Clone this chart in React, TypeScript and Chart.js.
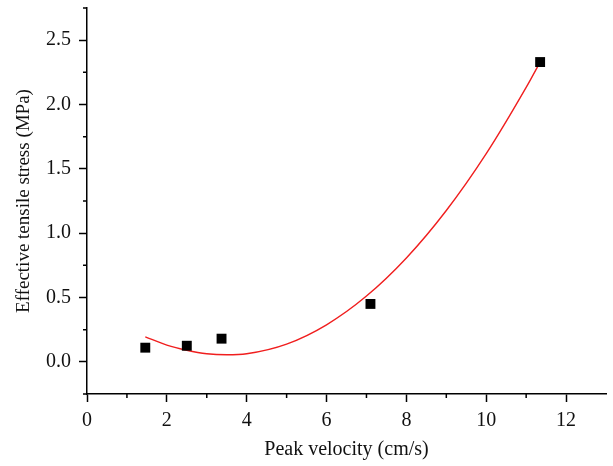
import React, { useEffect, useRef } from "react";
import { Chart, registerables } from "chart.js";

Chart.register(...registerables);

// Measured points
const pointX = [1.46, 2.5, 3.37, 7.1, 11.35];
const pointY = [0.11, 0.125, 0.18, 0.45, 2.33];

// Fitted curve
const curveX = [1.46, 2, 2.5, 3, 3.5, 4, 5, 6, 7, 8, 9, 10, 11, 11.35];
const curveY = [0.194, 0.13, 0.09, 0.063, 0.055, 0.063, 0.138, 0.288, 0.511, 0.807, 1.176, 1.618, 2.133, 2.33];

// Axis ticks
const xMajorTicks = [0, 2, 4, 6, 8, 10, 12];
const xMinorTicks = [1, 3, 5, 7, 9, 11];
const yMajorTicks = [0, 0.5, 1.0, 1.5, 2.0, 2.5];
const yMinorTicks = [-0.25, 0.25, 0.75, 1.25, 1.75, 2.25, 2.75];

const FONT = "'Liberation Serif', 'DejaVu Serif', serif";

const minorTickPlugin = {
  id: "minorTicks",
  afterDraw(chart: any) {
    const { ctx, scales } = chart;
    const xs = scales.x;
    const ys = scales.y;
    ctx.save();
    ctx.strokeStyle = "#000";
    ctx.lineWidth = 1.5;
    ctx.beginPath();
    for (const v of xMinorTicks) {
      const px = xs.getPixelForValue(v);
      ctx.moveTo(px, ys.bottom);
      ctx.lineTo(px, ys.bottom + 4);
    }
    for (const v of yMinorTicks) {
      const py = ys.getPixelForValue(v);
      ctx.moveTo(xs.left, py);
      ctx.lineTo(xs.left - 4, py);
    }
    ctx.stroke();
    ctx.restore();
  },
};

export default function App() {
  const ref = useRef<HTMLCanvasElement | null>(null);

  useEffect(() => {
    if (!ref.current) return;
    const chart = new Chart(ref.current, {
      type: "scatter",
      data: {
        datasets: [
          {
            label: "Data",
            data: pointX.map((x, i) => ({ x, y: pointY[i] })),
            pointStyle: "rect",
            pointRadius: 7,
            pointBackgroundColor: "#000",
            pointBorderWidth: 0,
            showLine: false,
            order: 0,
          },
          {
            label: "Fit",
            data: curveX.map((x, i) => ({ x, y: curveY[i] })),
            showLine: true,
            borderColor: "rgb(240,30,30)",
            borderWidth: 1.4,
            pointRadius: 0,
            cubicInterpolationMode: "monotone",
            order: 1,
          } as any,
        ],
      },
      options: {
        responsive: false,
        animation: false,
        layout: { padding: { top: 8, right: 5, left: 0, bottom: 0 } },
        plugins: {
          legend: { display: false },
          tooltip: { enabled: false },
        },
        scales: {
          x: {
            type: "linear",
            min: 0,
            max: 13,
            afterBuildTicks: (s: any) => {
              s.ticks = xMajorTicks.map((v) => ({ value: v }));
            },
            afterFit: (s: any) => {
              s.height = 72;
              s.paddingLeft = 0;
              s.paddingRight = 0;
            },
            ticks: {
              color: "#111",
              font: { family: FONT, size: 20 },
              padding: 7,
              maxRotation: 0,
              autoSkip: false,
              callback: (v: any) => String(v),
            },
            grid: {
              drawOnChartArea: false,
              drawTicks: true,
              tickLength: 8,
              tickColor: "#000",
              tickWidth: 1.5,
            },
            border: { display: true, color: "#000", width: 1.5 },
            title: {
              display: true,
              text: "Peak velocity (cm/s)",
              color: "#111",
              font: { family: FONT, size: 20 },
              padding: { top: 0, bottom: 4 },
            },
          },
          y: {
            type: "linear",
            min: -0.25,
            max: 2.75,
            afterBuildTicks: (s: any) => {
              s.ticks = yMajorTicks.map((v) => ({ value: v }));
            },
            afterFit: (s: any) => {
              s.width = 87;
              s.paddingTop = 0;
              s.paddingBottom = 0;
            },
            ticks: {
              color: "#111",
              font: { family: FONT, size: 20 },
              padding: 8,
              autoSkip: false,
              callback: (v: any) => Number(v).toFixed(1),
            },
            grid: {
              drawOnChartArea: false,
              drawTicks: true,
              tickLength: 8,
              tickColor: "#000",
              tickWidth: 1.5,
            },
            border: { display: true, color: "#000", width: 1.5 },
            title: {
              display: true,
              text: "Effective tensile stress (MPa)",
              color: "#111",
              font: { family: FONT, size: 19 },
              padding: { top: 13, bottom: 0 },
            },
          },
        },
      },
      plugins: [minorTickPlugin],
    });
    return () => chart.destroy();
  }, []);

  return (
    <div style={{ position: "absolute", left: 0, top: 0, width: 613, height: 466, background: "#fff" }}>
      <canvas ref={ref} width={613} height={466} style={{ display: "block" }} />
    </div>
  );
}
